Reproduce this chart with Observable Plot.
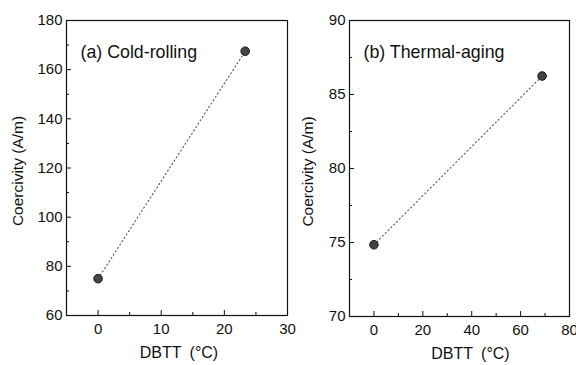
<!DOCTYPE html>
<html>
<head>
<meta charset="utf-8">
<script src="https://cdn.jsdelivr.net/npm/d3@7"></script>
<script src="https://cdn.jsdelivr.net/npm/@observablehq/plot@0.6"></script>
<style>
  html, body { margin: 0; padding: 0; background: #fff; }
  #wrap { display: flex; width: 576px; height: 365px; }
  svg { font-family: "Liberation Sans", Arial, sans-serif; overflow: visible; }
</style>
</head>
<body>
<div id="wrap"></div>
<script>
// Panel (a) Cold-rolling
const dbttA = [0, 23.3];
const coerA = [75, 167.5];
const xTicksA = [0, 10, 20, 30];
const xMinorA = [-5, 5, 15, 25];
const yTicksA = [60, 80, 100, 120, 140, 160, 180];
const yMinorA = [70, 90, 110, 130, 150, 170];
const labelA = "(a) Cold-rolling";

// Panel (b) Thermal-aging
const dbttB = [0, 68.8];
const coerB = [74.85, 86.25];
const xTicksB = [0, 20, 40, 60, 80];
const xMinorB = [-10, 10, 30, 50, 70];
const yTicksB = [70, 75, 80, 85, 90];
const yMinorB = [72.5, 77.5, 82.5, 87.5];
const labelB = "(b) Thermal-aging";

const xLabel = "DBTT\u2002(°C)";
const yLabel = "Coercivity (A/m)";

function panel(cfg) {
  const data = cfg.x.map((d, i) => ({x: d, y: cfg.y[i]}));
  return Plot.plot({
    width: cfg.width,
    height: 365,
    marginLeft: cfg.ml,
    marginRight: cfg.mr,
    marginTop: 20,
    marginBottom: cfg.mb,
    style: {fontFamily: "'Liberation Sans', Arial, sans-serif", fontSize: "15px", color: "#111", background: "transparent", overflow: "visible"},
    x: {domain: cfg.xd},
    y: {domain: cfg.yd},
    marks: [
      Plot.frame({stroke: "#111", strokeWidth: 1.2}),
      Plot.axisX(cfg.xt, {tickSize: -5, tickPadding: 13, label: null, fontSize: 15}),
      Plot.axisX(cfg.xm, {tickSize: -3, tickFormat: () => "", label: null}),
      Plot.axisY(cfg.yt, {tickSize: -5, tickPadding: 9, label: null, fontSize: 15}),
      Plot.axisY(cfg.ym, {tickSize: -3, tickFormat: () => "", label: null}),
      Plot.text([xLabel], {frameAnchor: "bottom", dx: cfg.xldx, dy: 37, text: d => d, fontSize: 16, textAnchor: "middle", lineAnchor: "middle", fill: "#111"}),
      Plot.text([yLabel], {frameAnchor: "left", dx: 18 - cfg.ml, dy: 3, text: d => d, rotate: -90, fontSize: 15.5, textAnchor: "middle", lineAnchor: "middle", fill: "#111"}),
      Plot.line(data, {x: "x", y: "y", stroke: "#555", strokeWidth: 1.1, strokeDasharray: "1.2,2.8"}),
      Plot.dot(data, {x: "x", y: "y", r: 4.3, fill: "#444", stroke: "#1a1a1a", strokeWidth: 1}),
      Plot.text([cfg.label], {frameAnchor: "top-left", dx: cfg.tdx, dy: 32, text: d => d, fontSize: 17.8, textAnchor: "start", lineAnchor: "middle", fill: "#111"})
    ]
  });
}

const wrap = document.getElementById("wrap");
wrap.append(panel({width: 290, ml: 66, mr: 3, mb: 50, xd: [-5, 30], yd: [60, 180],
  x: dbttA, y: coerA, xt: xTicksA, xm: xMinorA, yt: yTicksA, ym: yMinorA, label: labelA, tdx: 14, xldx: 2}));
wrap.append(panel({width: 286, ml: 59, mr: 7, mb: 49, xd: [-10, 80], yd: [70, 90],
  x: dbttB, y: coerB, xt: xTicksB, xm: xMinorB, yt: yTicksB, ym: yMinorB, label: labelB, tdx: 14, xldx: 11}));
</script>
</body>
</html>
